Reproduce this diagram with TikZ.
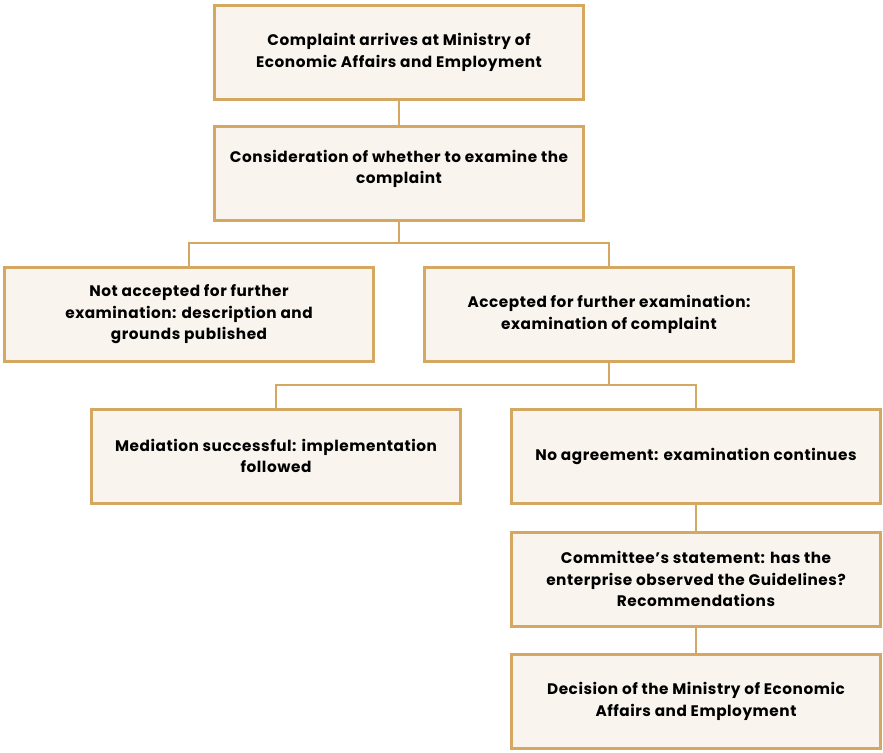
\documentclass[tikz,border=0pt]{standalone}
\usepackage{fontspec}
\setmainfont{Poppins}[LetterSpace=3.5]
\usepackage{xcolor}
\usetikzlibrary{
  positioning,
  calc}

\definecolor{boxline}{RGB}{212,168,96}
\definecolor{boxfill}{RGB}{249,244,238}

\begin{document}
\begin{tikzpicture}[x=1pt,y=-1pt,
  stage/.style={draw=boxline,fill=boxfill,line width=3pt,minimum width=369pt,minimum height=94pt,
    inner sep=0pt,align=center,font=\fontsize{15.3}{21.5}\selectfont\bfseries},
  link/.style={draw=boxline,line width=2.5pt}]
\useasboundingbox (0,0) rectangle (883,752);
\node[stage] (arrive) at (399,52.5) {Complaint arrives at Ministry of\\Economic Affairs and Employment};
\node[stage] (consider) at (399,173.5) {Consideration of whether to examine the\\complaint\\[-8pt]};
\node[stage] (reject) at (189,314.5) {Not accepted for further\\examination: description and\\grounds published};
\node[stage] (accept) at (609,314.5) {Accepted for further examination:\\examination of complaint};
\node[stage] (mediate) at (276,456) {Mediation successful: implementation\\followed};
\node[stage] (noagree) at (696,456) {No agreement: examination continues};
\node[stage] (statement) at (696,579) {Committee’s statement: has the\\enterprise observed the Guidelines?\\Recommendations};
\node[stage] (decision) at (696,701.5) {Decision of the Ministry of Economic\\Affairs and Employment};
% branch points
\coordinate (split1) at (399,243);
\coordinate (split2) at (609,385);
\draw[link] (arrive) -- (consider);
\draw[link] (consider) -- (split1) -| (reject);
\draw[link] (split1) -| (accept);
\draw[link] (accept) -- (split2) -| (mediate);
\draw[link] (split2) -| (noagree);
\draw[link] (noagree) -- (statement);
\draw[link] (statement) -- (decision);
\end{tikzpicture}
\end{document}
